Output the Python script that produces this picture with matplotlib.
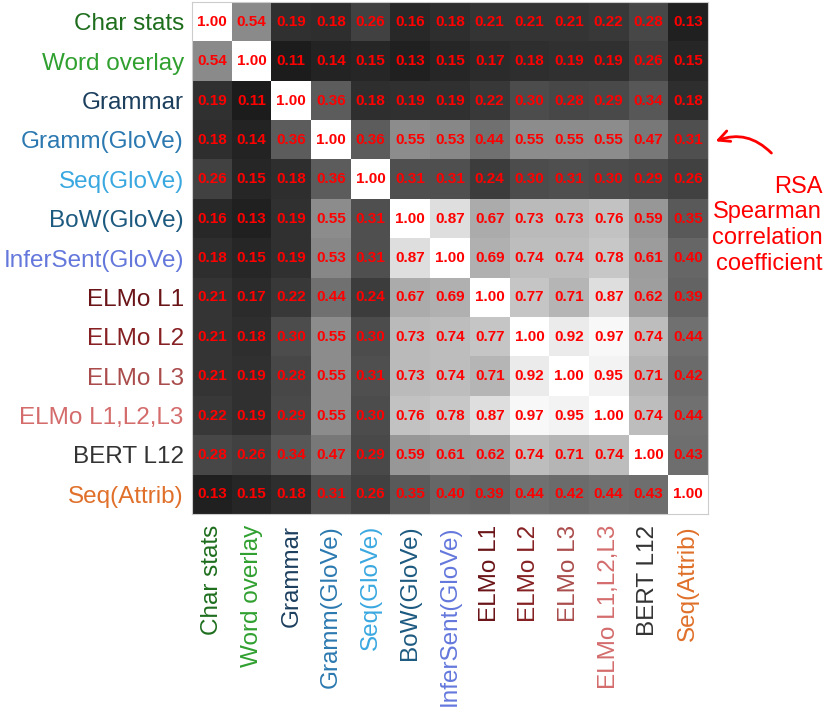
import matplotlib
matplotlib.use('Agg')
import matplotlib.pyplot as plt
import numpy as np

plt.rcParams['font.family'] = ['Liberation Sans', 'DejaVu Sans']

# 模型名称及标签颜色
labels = ['Char stats', 'Word overlay', 'Grammar', 'Gramm(GloVe)', 'Seq(GloVe)',
          'BoW(GloVe)', 'InferSent(GloVe)', 'ELMo L1', 'ELMo L2', 'ELMo L3',
          'ELMo L1,L2,L3', 'BERT L12', 'Seq(Attrib)']
label_colors = ['#1e6e1e', '#30a030', '#1c3f5e', '#2b79b0', '#3aa8e0',
                '#1d5a80', '#6478dc', '#6a1418', '#862022', '#aa4c4c',
                '#d46c6c', '#333333', '#e0702a']

# RSA 相关系数矩阵
corr = np.array([
    [1.00, 0.54, 0.19, 0.18, 0.26, 0.16, 0.18, 0.21, 0.21, 0.21, 0.22, 0.28, 0.13],
    [0.54, 1.00, 0.11, 0.14, 0.15, 0.13, 0.15, 0.17, 0.18, 0.19, 0.19, 0.26, 0.15],
    [0.19, 0.11, 1.00, 0.36, 0.18, 0.19, 0.19, 0.22, 0.30, 0.28, 0.29, 0.34, 0.18],
    [0.18, 0.14, 0.36, 1.00, 0.36, 0.55, 0.53, 0.44, 0.55, 0.55, 0.55, 0.47, 0.31],
    [0.26, 0.15, 0.18, 0.36, 1.00, 0.31, 0.31, 0.24, 0.30, 0.31, 0.30, 0.29, 0.26],
    [0.16, 0.13, 0.19, 0.55, 0.31, 1.00, 0.87, 0.67, 0.73, 0.73, 0.76, 0.59, 0.35],
    [0.18, 0.15, 0.19, 0.53, 0.31, 0.87, 1.00, 0.69, 0.74, 0.74, 0.78, 0.61, 0.40],
    [0.21, 0.17, 0.22, 0.44, 0.24, 0.67, 0.69, 1.00, 0.77, 0.71, 0.87, 0.62, 0.39],
    [0.21, 0.18, 0.30, 0.55, 0.30, 0.73, 0.74, 0.77, 1.00, 0.92, 0.97, 0.74, 0.44],
    [0.21, 0.19, 0.28, 0.55, 0.31, 0.73, 0.74, 0.71, 0.92, 1.00, 0.95, 0.71, 0.42],
    [0.22, 0.19, 0.29, 0.55, 0.30, 0.76, 0.78, 0.87, 0.97, 0.95, 1.00, 0.74, 0.44],
    [0.28, 0.26, 0.34, 0.47, 0.29, 0.59, 0.61, 0.62, 0.74, 0.71, 0.74, 1.00, 0.43],
    [0.13, 0.15, 0.18, 0.31, 0.26, 0.35, 0.40, 0.39, 0.44, 0.42, 0.44, 0.43, 1.00],
])

fig = plt.figure(figsize=(8.28, 7.08), dpi=100)
ax = fig.add_axes([0.232, 0.274, 0.623, 0.723])

ax.imshow(corr, cmap='gray', vmin=0, vmax=1, aspect='auto')

# 在格子里写数值
for i in range(len(labels)):
    for j in range(len(labels)):
        ax.text(j, i, f'{corr[i, j]:.2f}', ha='center', va='center',
                color='red', fontsize=11, fontweight='bold')

ax.set_xticks(range(len(labels)))
ax.set_yticks(range(len(labels)))
ax.set_xticklabels(labels, rotation=90, fontsize=17.5)
ax.set_yticklabels(labels, fontsize=17.5)
ax.tick_params(length=0)
ax.tick_params(axis='y', pad=6)
ax.tick_params(axis='x', pad=8)
for lab, c in zip(ax.get_xticklabels(), label_colors):
    lab.set_color(c)
for lab, c in zip(ax.get_yticklabels(), label_colors):
    lab.set_color(c)
for s in ax.spines.values():
    s.set_color('#cccccc')
    s.set_linewidth(0.8)

# 右侧注释
fig.text(0.993, 0.682, 'RSA\nSpearman\ncorrelation\ncoefficient', ha='right', va='center',
         color='red', fontsize=17, linespacing=1.22)
ax.annotate('', xy=(0.861, 0.799), xytext=(0.934, 0.781),
            xycoords='figure fraction', textcoords='figure fraction',
            arrowprops=dict(arrowstyle='->', color='red', lw=2,
                            connectionstyle='arc3,rad=0.35', mutation_scale=20))

fig.savefig('out.png', dpi=100)
